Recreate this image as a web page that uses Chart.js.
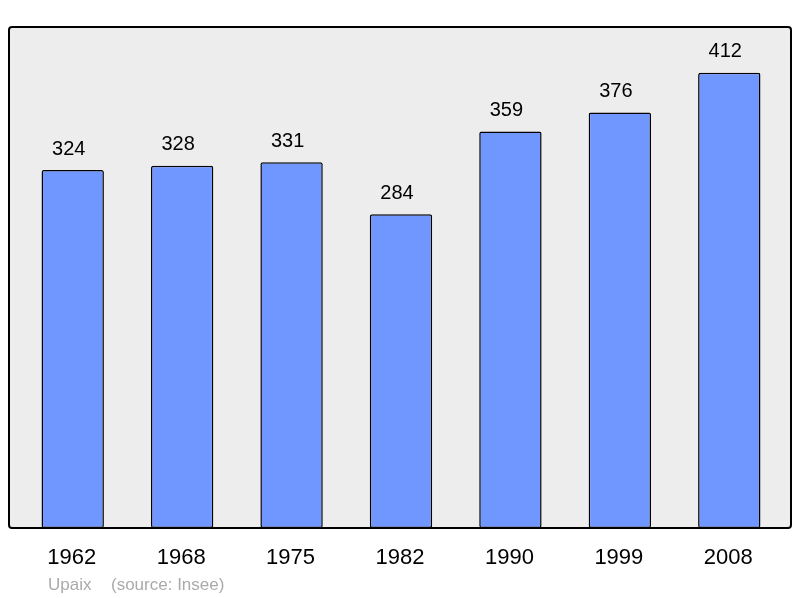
<!DOCTYPE html>
<html><head><meta charset="utf-8">
<script src="https://cdn.jsdelivr.net/npm/chart.js@4/dist/chart.umd.min.js"></script>
<style>html,body{margin:0;padding:0;background:#fff}#wrap{width:800px;height:598px}</style>
</head><body><div id="wrap"><canvas id="c" width="800" height="598"></canvas></div>
<script>
const years = ["1962","1968","1975","1982","1990","1999","2008"];
const population = [324,328,331,284,359,376,412];
const commune = "Upaix";
const sourceText = "(source: Insee)";

const framePlugin = {
  id: 'frame',
  beforeDraw(chart) {
    const ctx = chart.ctx, a = chart.chartArea;
    ctx.save();
    ctx.fillStyle = '#ffffff';
    ctx.fillRect(0,0,chart.width,chart.height);
    ctx.beginPath();
    ctx.roundRect(9, a.top, 782, a.bottom - a.top, 3);
    ctx.fillStyle = '#ededed';
    ctx.fill();
    ctx.restore();
  },
  afterDatasetsDraw(chart) {
    const ctx = chart.ctx, a = chart.chartArea;
    ctx.save();
    ctx.beginPath();
    ctx.roundRect(9, a.top, 782, a.bottom - a.top, 3);
    ctx.lineWidth = 2;
    ctx.strokeStyle = '#000';
    ctx.stroke();
    const meta = chart.getDatasetMeta(0);
    ctx.fillStyle = '#000';
    ctx.textAlign = 'center';
    ctx.textBaseline = 'middle';
    ctx.font = '20px "Liberation Sans", Arial, sans-serif';
    meta.data.forEach((bar, i) => {
      ctx.fillText(String(population[i]), bar.x - 4, bar.y - 21);
    });
    ctx.font = '22px "Liberation Sans", Arial, sans-serif';
    const xs = chart.scales.x;
    years.forEach((y, i) => {
      ctx.fillText(y, xs.getPixelForValue(i) - 1, 558);
    });
    ctx.textAlign = 'left';
    ctx.fillStyle = '#aaaaaa';
    ctx.font = '17px "Liberation Sans", Arial, sans-serif';
    ctx.fillText(commune, 48, 585);
    ctx.fillText(sourceText, 111, 585);
    ctx.restore();
  }
};

new Chart(document.getElementById('c'), {
  type: 'bar',
  data: {
    labels: years,
    datasets: [{
      data: population,
      backgroundColor: 'rgb(112,150,255)',
      borderColor: '#000',
      borderWidth: 1.5,
      borderRadius: 2,
      borderSkipped: false,
      barPercentage: 0.57,
      categoryPercentage: 1.0
    }]
  },
  options: {
    responsive: false,
    animation: false,
    devicePixelRatio: 1,
    layout: { padding: { left: 18, right: 16, top: 27, bottom: 70 } },
    plugins: { legend: { display: false }, tooltip: { enabled: false } },
    scales: {
      x: { display: false },
      y: { display: false, min: 0, max: 453.5 }
    }
  },
  plugins: [framePlugin]
});
</script>
</body></html>
